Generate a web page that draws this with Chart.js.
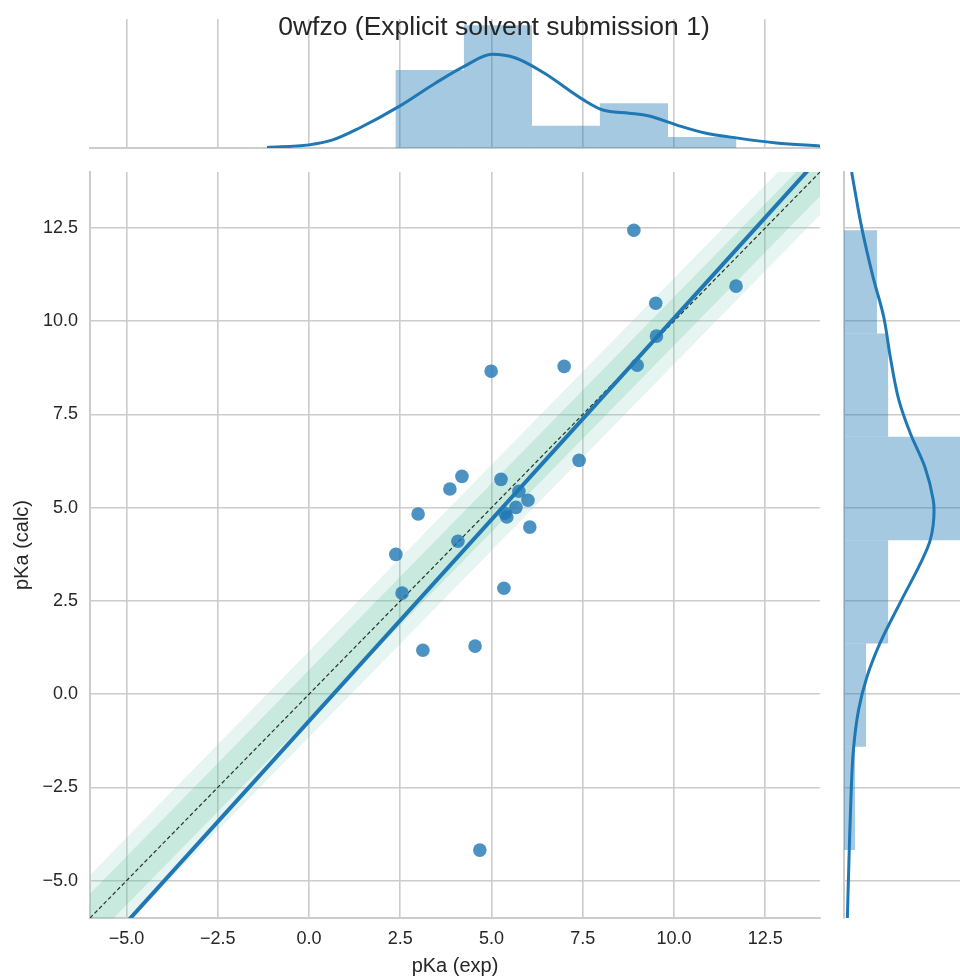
<!DOCTYPE html>
<html>
<head>
<meta charset="utf-8">
<script src="https://cdn.jsdelivr.net/npm/chart.js@4.4.1/dist/chart.umd.min.js"></script>
<style>
    body { margin: 0; background: #fff; }
    #wrap { position: relative; width: 960px; height: 978px; overflow: hidden; }
    canvas { position: absolute; }
    #title {
        position: absolute; left: 0; top: 13px; width: 988px; text-align: center;
        font-family: "Liberation Sans", Arial, sans-serif; font-size: 26.5px; line-height: 26px;
        color: #262626; z-index: 5;
    }
</style>
</head>
<body>
<div id="wrap">
    <canvas id="chartTop" width="830" height="160" style="left:0;top:0"></canvas>
    <canvas id="chartMain" width="830" height="818" style="left:0;top:160px"></canvas>
    <canvas id="chartRight" width="130" height="818" style="left:830px;top:160px"></canvas>
    <div id="title">0wfzo (Explicit solvent submission 1)</div>
</div>
<script>
// 実験値と計算値 (pKa)
var exp_pka = [8.90, 11.70, 9.50, 9.52, 8.99, 6.99, 4.99, 7.40, 4.19, 3.86, 5.26, 5.75, 6.00,
    5.67, 5.37, 5.42, 6.05, 2.99, 4.08, 2.38, 2.55, 5.34, 3.12, 4.55, 4.68];
var calc_pka = [12.44, 10.94, 10.48, 9.60, 8.82, 8.79, 8.66, 6.27, 5.84, 5.50, 5.76, 5.44, 5.20,
    5.01, 4.85, 4.75, 4.48, 4.83, 4.10, 3.75, 2.71, 2.84, 1.18, 1.29, -4.18];

// 回帰直線 (両端)
var reg_x = [-6, 14];
var reg_y = [-7.2, 14.4];

// 対角線と誤差帯 (画像から読んだ幅)
var diag = [-6, 14];
var band_inner = 0.65;
var band_outer = 1.15;

// 上のヒストグラム (exp)
var top_bin_centers = [3.31, 5.18, 7.04, 8.90, 10.77];
var top_bin_density = [0.150, 0.236, 0.043, 0.086, 0.021];
var top_kde_x = [-1.15, 0.0, 0.63, 1.37, 2.47, 3.47, 4.25, 5.02, 5.66, 6.42, 7.53, 8.05,
    8.77, 9.29, 10.08, 10.85, 11.75, 12.8, 14.0];
var top_kde_y = [0.001, 0.006, 0.015, 0.038, 0.080, 0.125, 0.157, 0.180, 0.173, 0.145,
    0.092, 0.073, 0.067, 0.062, 0.044, 0.029, 0.019, 0.0096, 0.004];

// 右のヒストグラム (calc)
var right_bin_centers = [-2.795, -0.025, 2.745, 5.515, 8.285, 11.055];
var right_bin_density = [0.0144, 0.0289, 0.0578, 0.159, 0.0578, 0.0433];
var right_kde_y = [14.0, 12.53, 11.19, 10.12, 9.0, 7.88, 6.99, 6.09, 5.2, 4.93, 4.13, 3.5,
    2.55, 1.36, 0.46, -0.43, -1.5, -2.84, -4.09, -6.0];
var right_kde_x = [0.010, 0.023, 0.038, 0.052, 0.061, 0.072, 0.087, 0.106, 0.117, 0.118,
    0.113, 0.100, 0.076, 0.047, 0.030, 0.019, 0.0123, 0.0090, 0.007, 0.0044];

var tick_values = [-5, -2.5, 0, 2.5, 5, 7.5, 10, 12.5];
var axis_min = -6;
var axis_max = 14;

var blue = '#1f77b4';
var hist_color = 'rgba(31, 119, 180, 0.4)';
var grid_color = '#cccccc';
var text_color = '#262626';
var font_family = '"Liberation Sans", Arial, sans-serif';

function zipXY(xs, ys) {
    return xs.map(function (x, i) {
        return {x: x, y: ys[i]};
    });
}

function fmtTick(v) {
    var s = Math.abs(v).toFixed(1);
    return v < 0 ? '\u2212' + s : s;
}

function setTicks(axis) {
    axis.ticks = tick_values.map(function (v) {
        return {value: v};
    });
}

function bandLine(offset) {
    return diag.map(function (v) {
        return {x: v, y: v + offset};
    });
}

// メインの散布図 (orderが大きいほど下に描かれる)
var main_chart = new Chart(document.getElementById('chartMain').getContext('2d'), {
    type: 'line',
    data: {
        datasets: [
            {data: bandLine(-band_outer), borderWidth: 0, pointRadius: 0, order: 10},
            {data: bandLine(band_outer), borderWidth: 0, pointRadius: 0, order: 10,
                fill: '-1', backgroundColor: 'rgba(131, 207, 185, 0.2)'},
            {data: bandLine(-band_inner), borderWidth: 0, pointRadius: 0, order: 9},
            {data: bandLine(band_inner), borderWidth: 0, pointRadius: 0, order: 9,
                fill: '-1', backgroundColor: 'rgba(81, 183, 138, 0.2)'},
            {data: zipXY(diag, diag), borderColor: 'rgba(0, 0, 0, 0.8)', borderWidth: 1.2,
                borderDash: [4, 2.5], pointRadius: 0, order: 8},
            {data: zipXY(reg_x, reg_y), borderColor: blue, borderWidth: 4, pointRadius: 0, order: 7},
            {data: zipXY(exp_pka, calc_pka), showLine: false, pointRadius: 6.8,
                pointBackgroundColor: 'rgba(31, 119, 180, 0.8)', pointBorderWidth: 0, order: 6}
        ]
    },
    options: {
        responsive: false,
        animation: false,
        devicePixelRatio: 1,
        layout: {padding: {top: 12, right: 10, left: 0, bottom: 0}},
        plugins: {legend: {display: false}, tooltip: {enabled: false}},
        scales: {
            x: {
                type: 'linear', min: axis_min, max: axis_max,
                afterBuildTicks: setTicks,
                afterFit: function (axis) {
                    axis.height = 60;
                    axis.paddingLeft = 0;
                    axis.paddingRight = 0;
                },
                grid: {color: grid_color, lineWidth: 1.6, drawTicks: false},
                border: {display: true, color: grid_color, width: 2},
                ticks: {color: text_color, padding: 10, font: {family: font_family, size: 18},
                    callback: fmtTick, maxRotation: 0},
                title: {display: true, text: 'pKa (exp)', color: text_color,
                    font: {family: font_family, size: 20}, padding: {top: 0, bottom: 0}}
            },
            y: {
                type: 'linear', min: axis_min, max: axis_max,
                afterBuildTicks: setTicks,
                afterFit: function (axis) {
                    axis.width = 90;
                    axis.paddingTop = 0;
                    axis.paddingBottom = 0;
                },
                grid: {color: grid_color, lineWidth: 1.6, drawTicks: false},
                border: {display: true, color: grid_color, width: 2},
                ticks: {color: text_color, padding: 12, font: {family: font_family, size: 18},
                    callback: fmtTick},
                title: {display: true, text: 'pKa (calc)', color: text_color,
                    font: {family: font_family, size: 20}, padding: {top: 10, bottom: 0}}
            }
        }
    }
});

// 上の周辺分布
var top_chart = new Chart(document.getElementById('chartTop').getContext('2d'), {
    type: 'bar',
    data: {
        datasets: [
            {type: 'line', data: zipXY(top_kde_x, top_kde_y), borderColor: blue, borderWidth: 3,
                pointRadius: 0, cubicInterpolationMode: 'monotone', order: 1},
            {data: zipXY(top_bin_centers, top_bin_density), backgroundColor: hist_color,
                borderWidth: 0, inflateAmount: 0, barThickness: 'flex', barPercentage: 1,
                categoryPercentage: 1, order: 2}
        ]
    },
    options: {
        responsive: false,
        animation: false,
        devicePixelRatio: 1,
        layout: {padding: {top: 19, right: 10, left: 90, bottom: 0}},
        plugins: {legend: {display: false}, tooltip: {enabled: false}},
        scales: {
            x: {
                type: 'linear', min: axis_min, max: axis_max, offset: false,
                afterBuildTicks: setTicks,
                afterFit: function (axis) {
                    axis.height = 12;
                    axis.paddingLeft = 0;
                    axis.paddingRight = 0;
                },
                grid: {color: grid_color, lineWidth: 1.6, drawTicks: false, offset: false},
                border: {display: true, color: grid_color, width: 2},
                ticks: {display: false}
            },
            y: {display: false, min: 0, max: 0.248}
        }
    }
});

// 右の周辺分布
var right_chart = new Chart(document.getElementById('chartRight').getContext('2d'), {
    type: 'bar',
    data: {
        datasets: [
            {type: 'line', indexAxis: 'y', data: zipXY(right_kde_x, right_kde_y), borderColor: blue,
                borderWidth: 3, pointRadius: 0, cubicInterpolationMode: 'monotone', order: 1},
            {indexAxis: 'y', data: zipXY(right_bin_density, right_bin_centers),
                backgroundColor: hist_color, borderWidth: 0, inflateAmount: 0, barThickness: 'flex',
                barPercentage: 1, categoryPercentage: 1, order: 2}
        ]
    },
    options: {
        indexAxis: 'y',
        responsive: false,
        animation: false,
        devicePixelRatio: 1,
        layout: {padding: {top: 12, right: 0, left: 0, bottom: 60}},
        plugins: {legend: {display: false}, tooltip: {enabled: false}},
        scales: {
            y: {
                type: 'linear', min: axis_min, max: axis_max, offset: false, position: 'left',
                afterBuildTicks: setTicks,
                afterFit: function (axis) {
                    axis.width = 14;
                    axis.paddingTop = 0;
                    axis.paddingBottom = 0;
                },
                grid: {color: grid_color, lineWidth: 1.6, drawTicks: false, offset: false},
                border: {display: true, color: grid_color, width: 2},
                ticks: {display: false}
            },
            x: {display: false, min: 0, max: 0.152}
        }
    }
});
</script>
</body>
</html>
